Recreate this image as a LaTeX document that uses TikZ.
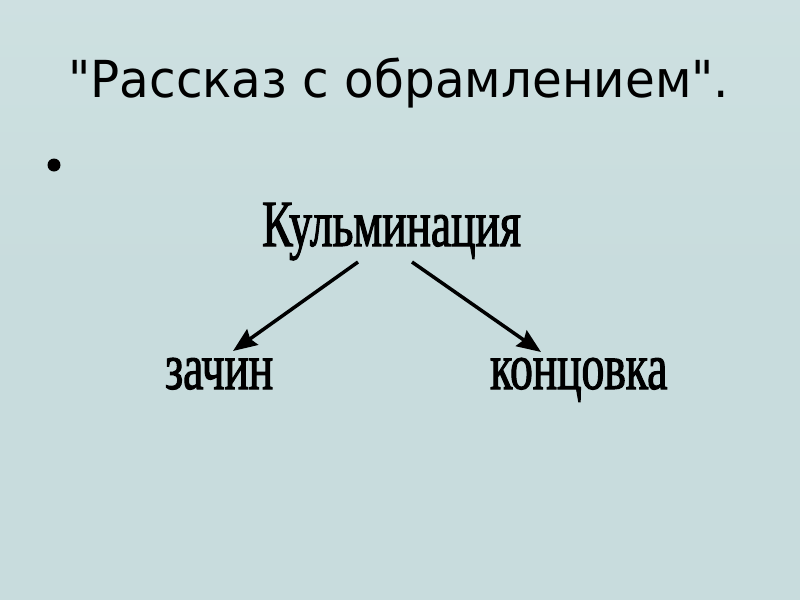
\documentclass[tikz,border=0pt]{standalone}
\usepackage{fontspec}
\usetikzlibrary{arrows.meta}
\newfontfamily\titlefont[FakeStretch=0.95]{DejaVu Sans}
\newfontfamily\diagfont[FakeStretch=0.69,FakeBold=1.6]{Liberation Serif}
\definecolor{bgcol}{RGB}{200,220,221}
\definecolor{bglight}{RGB}{210,228,228}
\tikzset{
  title/.style={anchor=base west, inner sep=0pt, font=\titlefont\fontsize{51}{60}\selectfont},
  term/.style={anchor=base west, inner sep=0pt, font=\diagfont\fontsize{66}{72}\selectfont},
  link/.style={line width=3.5pt, -{Stealth[length=24pt,width=19pt,inset=3pt]}}
}
\begin{document}
\begin{tikzpicture}[x=1pt,y=-1pt]
  \fill[bgcol] (0,0) rectangle (800,600);
  \shade[top color=bglight, bottom color=bgcol, opacity=0.6] (0,0) rectangle (800,300);
  \useasboundingbox (0,0) rectangle (800,600);
  \node[title] (t) at (68,97) {"Рассказ с обрамлением".};
  \fill (54,165) circle (6.5pt);
  \node[term] (k) at (262,246) {Кульминация};
  \node[term] (z) at (165,389) {зачин};
  \node[term] (c) at (490,389) {концовка};
  \coordinate (k1) at (358,262);
  \coordinate (k2) at (412,262);
  \coordinate (z1) at (233,351);
  \coordinate (c1) at (541,352);
  \draw[link] (k1) -- (z1);
  \draw[link] (k2) -- (c1);
\end{tikzpicture}
\end{document}
